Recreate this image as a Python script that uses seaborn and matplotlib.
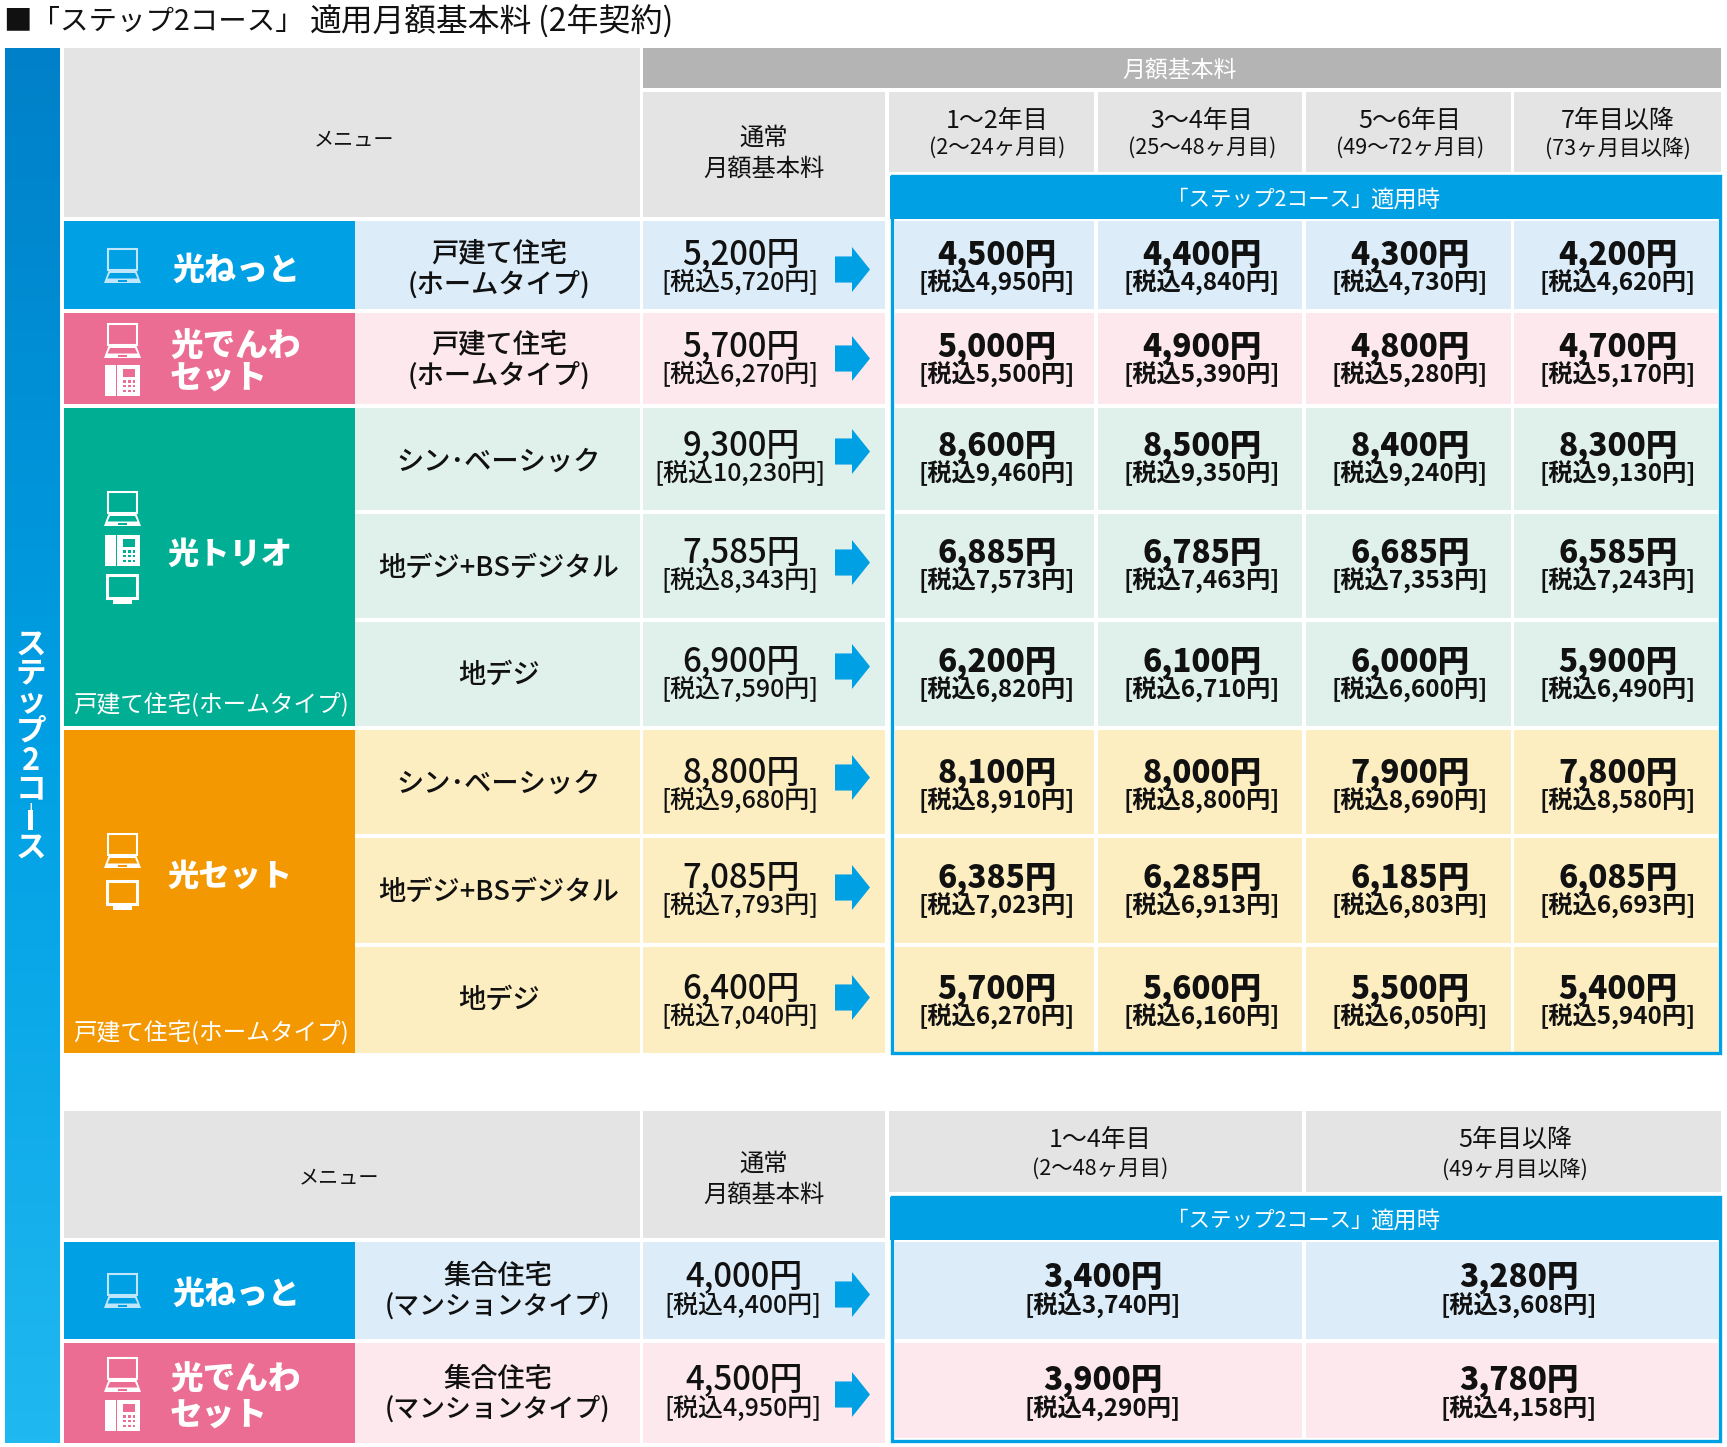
"""Step-2 course monthly fee table, drawn on a pixel-sized axes."""
import matplotlib
matplotlib.use("Agg")
import matplotlib.pyplot as plt
from matplotlib.patches import Polygon, Rectangle
from matplotlib.path import Path
import numpy as np
import seaborn as sns

sns.set_theme(style="white")
JP = ["Noto Sans CJK JP", "DejaVu Sans"]
plt.rcParams["font.family"] = JP

# ---- data ------------------------------------------------------------------
year_heads = ["1〜2年目", "3〜4年目", "5〜6年目", "7年目以降"]
month_heads = ["(2〜24ヶ月目)", "(25〜48ヶ月目)", "(49〜72ヶ月目)", "(73ヶ月目以降)"]
year_heads2 = ["1〜4年目", "5年目以降"]
month_heads2 = ["(2〜48ヶ月目)", "(49ヶ月目以降)"]

plans = [["戸建て住宅", "(ホームタイプ)"], ["戸建て住宅", "(ホームタイプ)"],
         ["シン･ベーシック"], ["地デジ+BSデジタル"], ["地デジ"],
         ["シン･ベーシック"], ["地デジ+BSデジタル"], ["地デジ"]]
plans2 = [["集合住宅", "(マンションタイプ)"], ["集合住宅", "(マンションタイプ)"]]

normal_fee = [5200, 5700, 9300, 7585, 6900, 8800, 7085, 6400]
normal_tax = [5720, 6270, 10230, 8343, 7590, 9680, 7793, 7040]
step_fee = [[4500, 4400, 4300, 4200],
            [5000, 4900, 4800, 4700],
            [8600, 8500, 8400, 8300],
            [6885, 6785, 6685, 6585],
            [6200, 6100, 6000, 5900],
            [8100, 8000, 7900, 7800],
            [6385, 6285, 6185, 6085],
            [5700, 5600, 5500, 5400]]
step_tax = [[4950, 4840, 4730, 4620],
            [5500, 5390, 5280, 5170],
            [9460, 9350, 9240, 9130],
            [7573, 7463, 7353, 7243],
            [6820, 6710, 6600, 6490],
            [8910, 8800, 8690, 8580],
            [7023, 6913, 6803, 6693],
            [6270, 6160, 6050, 5940]]
normal_fee2 = [4000, 4500]
normal_tax2 = [4400, 4950]
step_fee2 = [[3400, 3280], [3900, 3780]]
step_tax2 = [[3740, 3608], [4290, 4158]]

# ---- colours ---------------------------------------------------------------
BLUE, PINK, GREEN, ORANGE = "#00a0e4", "#eb6d94", "#00ae94", "#f39800"
L_BLUE, L_PINK, L_GREEN, L_ORANGE = "#dcedf9", "#fde8ee", "#e0f0eb", "#fdeec1"
HEAD, BAR = "#e4e4e4", "#b4b4b4"
INK = "#111111"
row_tint = [L_BLUE, L_PINK, L_GREEN, L_GREEN, L_GREEN, L_ORANGE, L_ORANGE, L_ORANGE]
row_tint2 = [L_BLUE, L_PINK]

# ---- layout (pixels of the 1727x1447 picture) ------------------------------
rows = [(221, 309), (313, 404), (408, 510), (514, 618), (622, 726),
        (730, 834), (838, 943), (947, 1053)]
rows2 = [(1242, 1339), (1343, 1443)]
cols = [(895, 1094), (1098, 1302), (1306, 1511), (1514, 1718)]
head_cols = [(889, 1094), (1098, 1302), (1306, 1511), (1514, 1721)]
cols2 = [(895, 1302), (1306, 1718)]
head_cols2 = [(889, 1302), (1306, 1721)]
col_x = [997, 1202, 1410, 1618]
col_x2 = [1103, 1519]
head_x2 = [1100, 1515]
fee_y = [253, 345, 444, 551, 660, 771, 876, 987]
fee_y2 = [1275, 1378]
plan_y = [[252, 282], [343, 373], [460], [566], [673], [782], [890], [998]]
plan_y2 = [[1274, 1304], [1377, 1407]]
arrow_y = [269, 358, 451, 562, 666, 777, 887, 997]
arrow_y2 = [1294, 1394]
TAX_DY = 28
TEXT_DY = 2.2

fig, ax = plt.subplots(figsize=(17.27, 14.47), dpi=100)
fig.subplots_adjust(0, 0, 1, 1)
fig.patch.set_facecolor("white")


def rect(x0, y0, x1, y1, color, **kw):
    ax.add_patch(Rectangle((x0, y0), x1 - x0, y1 - y0, fc=color, lw=0, **kw))


def label(x, y, s, size, color=INK, weight="normal", ha="center", **kw):
    ax.text(x, y + TEXT_DY, s, fontsize=size, color=color, fontweight=weight, ha=ha,
            va="center", family=JP, **kw)


def laptop(cx, top, fg, bg):
    ax.add_patch(Rectangle((cx - 14.5, top + 1), 29, 21, fc="none", ec=fg, lw=1.5))
    ax.add_patch(Polygon([(cx - 14, top + 23), (cx + 14, top + 23), (cx + 18.5, top + 35),
                          (cx - 18.5, top + 35)], fc=fg, lw=0))
    ax.add_patch(Polygon([(cx - 12.5, top + 25), (cx + 12.5, top + 25), (cx + 15, top + 30.5),
                          (cx - 15, top + 30.5)], fc=bg, lw=0))
    rect(cx - 4.5, top + 31.5, cx + 4.5, top + 33.5, bg)


def phone(cx, top, fg, bg):
    rect(cx - 17.5, top, cx - 6.5, top + 31, fg)
    rect(cx - 5, top, cx + 17.5, top + 31, fg)
    rect(cx + 1, top + 4, cx + 13, top + 11.5, bg)
    for i in range(3):
        for j in range(3):
            rect(cx + 0.8 + i * 4.8, top + 15 + j * 4.8, cx + 3.4 + i * 4.8, top + 17.6 + j * 4.8, bg)


def monitor(cx, top, fg):
    ax.add_patch(Rectangle((cx - 15, top + 1.5), 30, 23, fc="none", ec=fg, lw=2.2))
    rect(cx - 9.5, top + 27, cx + 9.5, top + 31, fg)


# left strip with its gradient
strip_cmap = sns.blend_palette(["#0080c8", "#00a0e4", "#20b8f0"], as_cmap=True)
ax.imshow(np.linspace(0, 1, 256)[:, None], cmap=strip_cmap, aspect="auto",
          extent=(5, 60, 1443, 48), zorder=1)
ax.text(31, 746, "ス\nテ\nッ\nプ\n2\nコ\n︱\nス", fontsize=22, color="white", fontweight="bold",
        ha="center", va="center", linespacing=0.88, family=JP, zorder=3)
# the vertical bar glyph is thin in this font, thicken it
rect(28.5, 810, 33.5, 830, "white", zorder=4)

# title, in pieces so the brackets sit tight like the original
label(3, 20, "■「ステップ2コース」", 20.5, ha="left")
label(310, 20, "適用月額基本料", 22.9, ha="left")
label(538, 20, "(2年契約)", 23, ha="left")

# top headers
rect(64, 48, 640, 217, HEAD)
rect(643, 48, 1721, 88, BAR)
rect(643, 92, 885, 217, HEAD)
label(354, 138, "メニュー", 14.5)
label(1180, 68, "月額基本料", 16.5, "white")
label(764, 136, "通常", 17.5)
label(764, 166, "月額基本料", 17.5)
for (x0, x1), cx, yh, mh in zip(head_cols, col_x, year_heads, month_heads):
    rect(x0, 92, x1, 172, HEAD)
    label(cx, 119, yh, 18)
    label(cx, 146, mh, 15.5)
rect(890, 176, 1721, 219, BLUE)
label(1270, 198, "「ステップ2コース」", 15.5, "white")
label(1405, 198, "適用時", 16.8, "white")

# lower headers
rect(64, 1111, 640, 1238, HEAD)
rect(643, 1111, 885, 1238, HEAD)
label(339, 1176, "メニュー", 14.5)
label(764, 1162, "通常", 17.5)
label(764, 1192, "月額基本料", 17.5)
for (x0, x1), cx, yh, mh in zip(head_cols2, head_x2, year_heads2, month_heads2):
    rect(x0, 1111, x1, 1192, HEAD)
    label(cx, 1138, yh, 18)
    label(cx, 1167, mh, 15.5)
rect(890, 1197, 1721, 1240, BLUE)
label(1270, 1219, "「ステップ2コース」", 15.5, "white")
label(1405, 1219, "適用時", 16.8, "white")

# service name blocks
rect(64, 221, 355, 309, BLUE)
rect(64, 313, 355, 404, PINK)
rect(64, 408, 355, 726, GREEN)
rect(64, 730, 355, 1053, ORANGE)
rect(64, 1242, 355, 1339, BLUE)
rect(64, 1343, 355, 1443, PINK)
label(172, 268, "光ねっと", 23, "white", "black", ha="left")
label(170, 345, "光でんわ", 23.5, "white", "black", ha="left")
label(170, 376, "セット", 23.5, "white", "black", ha="left")
label(167, 552, "光トリオ", 22.5, "white", "black", ha="left")
label(167, 874, "光セット", 22.5, "white", "black", ha="left")
label(172, 1292, "光ねっと", 23, "white", "black", ha="left")
label(170, 1378, "光でんわ", 23.5, "white", "black", ha="left")
label(170, 1413, "セット", 23.5, "white", "black", ha="left")
label(211, 702, "戸建て住宅(ホームタイプ)", 17, "white")
label(211, 1030, "戸建て住宅(ホームタイプ)", 17, "white")

laptop(122.5, 248, "#bfe6fa", BLUE)
laptop(122.5, 323, "white", PINK)
phone(122.5, 365, "white", PINK)
laptop(122.5, 491, "white", GREEN)
phone(122.5, 535, "white", GREEN)
monitor(122.5, 573, "white")
laptop(122.5, 833, "white", ORANGE)
monitor(122.5, 879, "white")
laptop(122.5, 1273, "#bfe6fa", BLUE)
laptop(122.5, 1357, "white", PINK)
phone(122.5, 1400, "white", PINK)

# upper table body
for i, (y0, y1) in enumerate(rows):
    rect(355, y0, 640, y1, row_tint[i])
    rect(643, y0, 885, y1, row_tint[i])
    for s, yy in zip(plans[i], plan_y[i]):
        label(499, yy, s, 19.6, weight="medium")
    label(741, fee_y[i], f"{normal_fee[i]:,}円", 23.7, weight="medium")
    label(740, fee_y[i] + TAX_DY, f"[税込{normal_tax[i]:,}円]", 18, weight="medium")
    for j, (x0, x1) in enumerate(cols):
        rect(x0, y0, x1, y1, row_tint[i])
        label(col_x[j], fee_y[i], f"{step_fee[i][j]:,}円", 22.7, weight="black")
        label(col_x[j], fee_y[i] + TAX_DY, f"[税込{step_tax[i][j]:,}円]", 17.5, weight="bold")

# lower table body
for i, (y0, y1) in enumerate(rows2):
    rect(355, y0, 640, y1, row_tint2[i])
    rect(643, y0, 885, y1, row_tint2[i])
    for s, yy in zip(plans2[i], plan_y2[i]):
        label(498, yy, s, 18.6 if s.startswith("(") else 19.6, weight="medium")
    label(744, fee_y2[i], f"{normal_fee2[i]:,}円", 23.7, weight="medium")
    label(743, fee_y2[i] + TAX_DY + 1, f"[税込{normal_tax2[i]:,}円]", 18, weight="medium")
    for j, (x0, x1) in enumerate(cols2):
        rect(x0, y0, x1, min(y1, 1438), row_tint2[i])
        label(col_x2[j], fee_y2[i], f"{step_fee2[i][j]:,}円", 22.7, weight="black")
        label(col_x2[j], fee_y2[i] + TAX_DY + 1, f"[税込{step_tax2[i][j]:,}円]", 17.5, weight="bold")

# blue frames around the step-course columns
for y0, y1 in [(176, 1053), (1197, 1441)]:
    ax.add_patch(Rectangle((892, y0), 828, y1 - y0, fc="none", ec=BLUE, lw=2.4, zorder=4))

# arrows: one marker shape, 45 px tall
arrow = Path([(-1, -0.58), (-0.245, -0.58), (-0.245, -1), (0.556, 0), (-0.245, 1),
              (-0.245, 0.58), (-1, 0.58), (-1, -0.58)], closed=True)
sns.scatterplot(x=[857.5] * len(arrow_y + arrow_y2), y=arrow_y + arrow_y2, marker=arrow,
                s=(45 * 0.72) ** 2, color=BLUE, linewidth=0, ax=ax, zorder=5, legend=False)

ax.set_xlim(0, 1727)
ax.set_ylim(1447, 0)
ax.set_xlabel("")
ax.set_ylabel("")
ax.set_axis_off()

fig.savefig("out.png", dpi=100)
